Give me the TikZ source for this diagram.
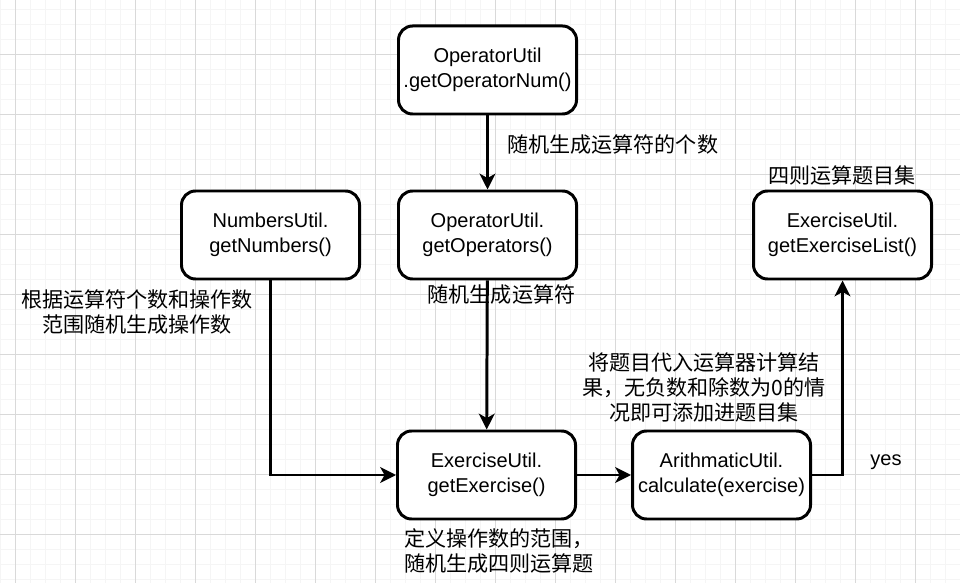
\documentclass[tikz,border=0pt]{standalone}
\usepackage{fontspec}
\setmainfont{Liberation Sans}
\newfontfamily\cjk{Noto Sans CJK SC}
\usetikzlibrary{arrows.meta}

\begin{document}
\begin{tikzpicture}[x=0.2mm,y=-0.2mm,
  caja/.style={draw,line width=1.7pt,rounded corners=8pt,fill=white,
    inner xsep=1pt,minimum width=35.6mm,minimum height=17.6mm,align=center,
    font=\fontsize{11.4}{14.2}\selectfont},
  flecha/.style={line width=1.7pt,-{Stealth[length=9pt,width=9pt,inset=2.5pt]}},
  nota/.style={font=\cjk\fontsize{12}{14.2}\selectfont,align=center},
  rejilla/.style={line width=0.5pt,color=gray!8},
  rejillamayor/.style={line width=0.5pt,color=gray!30}]
  \useasboundingbox (0,0) rectangle (960,583);

  % Fondo cuadriculado
  \fill[white] (0,0) rectangle (960,583);
  \foreach \x in {0,15,...,960} \draw[rejilla] (\x,0) -- (\x,583);
  \foreach \y in {9,24,...,583} \draw[rejilla] (0,\y) -- (960,\y);
  \foreach \x in {15,75,...,960} \draw[rejillamayor] (\x,0) -- (\x,583);
  \foreach \y in {54,114,...,583} \draw[rejillamayor] (0,\y) -- (960,\y);

  % Cajas
  \node[caja] (opnum) at (487.5,70) {OperatorUtil\\.getOperatorNum()};
  \node[caja] (ops) at (487.5,235) {OperatorUtil.\\getOperators()};
  \node[caja] (nums) at (270.5,235) {NumbersUtil.\\getNumbers()};
  \node[caja] (ejer) at (486.5,475) {ExerciseUtil.\\getExercise()};
  \node[caja] (calc) at (721.5,475) {ArithmaticUtil.\\calculate(exercise)};
  \node[caja] (lista) at (842.5,235) {ExerciseUtil.\\getExerciseList()};

  % Flechas
  \draw[flecha] (opnum) -- (ops);
  \draw[flecha] (ops) -- (ejer);
  \draw[flecha] (nums.south) |- (ejer.west);
  \draw[flecha] (ejer) -- (calc);
  \draw[flecha] (calc.east) -| (lista.south);

  % Etiquetas
  \node[nota,anchor=west] (txtnum) at (501,145) {随机生成运算符的个数};
  \node[nota] (txtlista) at (842,175) {四则运算题目集};
  \node[nota] (txtrango) at (137,312) {根据运算符个数和操作数\\范围随机生成操作数};
  \node[nota] (txtops) at (501.5,295) {随机生成运算符};
  \node[nota] (txtcalc) at (704,387) {将题目代入运算器计算结\\果，无负数和除数为0的情\\况即可添加进题目集};
  \node[font=\fontsize{11.4}{14.2}\selectfont] (txtyes) at (886,462) {yes};
  \node[nota,anchor=west,align=left] (txtdef) at (398,551) {定义操作数的范围，\\随机生成四则运算题};
\end{tikzpicture}
\end{document}
